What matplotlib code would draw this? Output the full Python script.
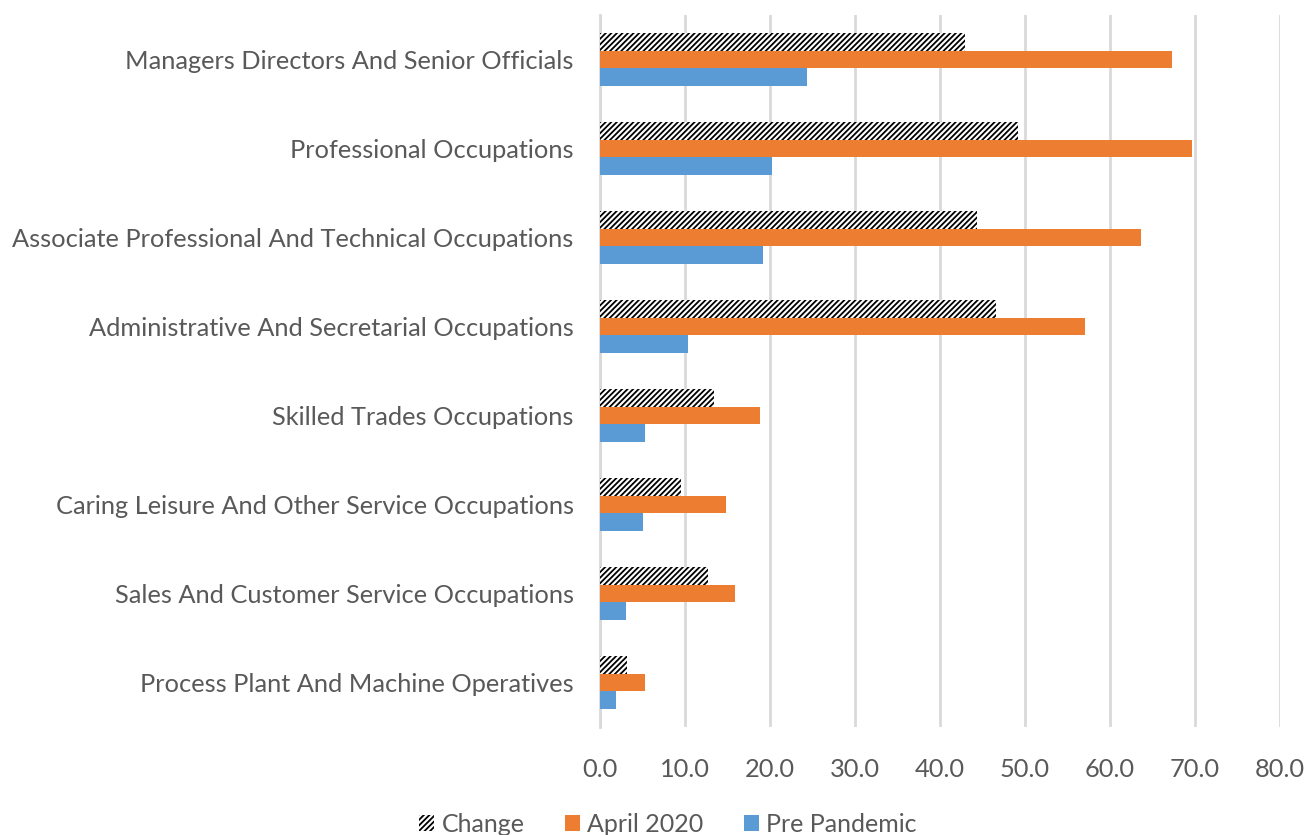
import matplotlib
matplotlib.use("Agg")
import matplotlib.pyplot as plt
import numpy as np

categories = [
    "Process Plant And Machine Operatives",
    "Sales And Customer Service Occupations",
    "Caring Leisure And Other Service Occupations",
    "Skilled Trades Occupations",
    "Administrative And Secretarial Occupations",
    "Associate Professional And Technical Occupations",
    "Professional Occupations",
    "Managers Directors And Senior Officials",
]
change = [3.2, 12.7, 9.5, 13.4, 46.6, 44.3, 49.2, 42.9]
april_2020 = [5.3, 15.9, 14.8, 18.8, 57.1, 63.6, 69.6, 67.3]
pre_pandemic = [1.9, 3.0, 5.1, 5.3, 10.4, 19.2, 20.2, 24.3]
xticks = [0, 10, 20, 30, 40, 50, 60, 70, 80]

plt.rcParams['font.family'] = ['Lato', 'DejaVu Sans']
plt.rcParams['hatch.linewidth'] = 1.3

fig = plt.figure(figsize=(13.1, 8.35), dpi=100)
ax = fig.add_axes([600/1310, 1-727/835, 680/1310, (727-15)/835])

y = np.arange(len(categories))
h = 0.2
ax.barh(y + h, change, height=h, color='white', edgecolor='black', hatch='//////', linewidth=0, label='Change', zorder=3)
ax.barh(y, april_2020, height=h, color='#ED7D31', label='April 2020', zorder=3)
ax.barh(y - h, pre_pandemic, height=h, color='#5B9BD5', label='Pre Pandemic', zorder=3)

ax.set_xlim(0, 80)
ax.set_ylim(-0.5, len(categories) - 0.5)
ax.set_xticks(xticks)
ax.set_xticklabels([f"{v:.1f}" for v in xticks])
ax.set_yticks(y)
ax.set_yticklabels(categories)
ax.tick_params(axis='both', length=0, labelsize=18.3, labelcolor='#595959')
ax.tick_params(axis='y', pad=19)
ax.tick_params(axis='x', pad=22)
ax.grid(axis='x', color='#D9D9D9', linewidth=2, zorder=0)
for s in ['top', 'right', 'bottom']:
    ax.spines[s].set_visible(False)
ax.spines['left'].set_color('#D9D9D9')
ax.spines['left'].set_linewidth(2)

fig.legend(loc='center', bbox_to_anchor=(668/1310, 1-824/835), ncol=3, frameon=False,
           fontsize=18, labelcolor='#595959', handlelength=0.6, handleheight=0.6,
           handletextpad=0.3, columnspacing=1.6)

fig.savefig("out.png", dpi=100)
